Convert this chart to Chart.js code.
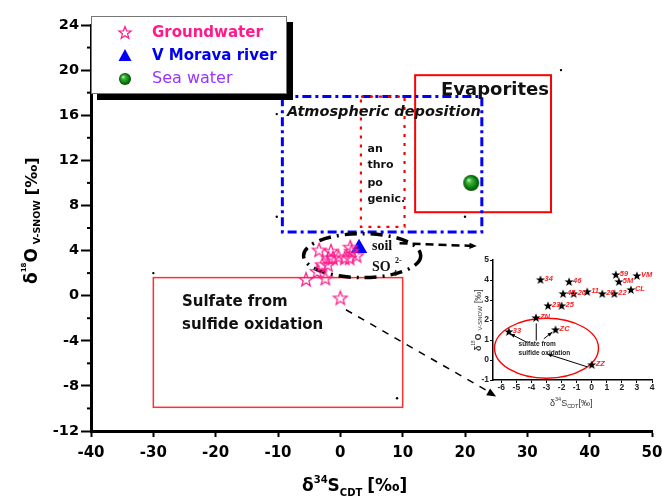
<!DOCTYPE html>
<html>
<head>
<meta charset="utf-8">
<script src="https://cdn.jsdelivr.net/npm/chart.js@4.4.1/dist/chart.umd.min.js"></script>
<style>
html, body { margin: 0; padding: 0; background: #fff; }
#wrap { position: relative; width: 662px; height: 497px; }
#main { position: absolute; left: 0; top: 0; }
#inset { position: absolute; left: 455px; top: 245px; }
</style>
</head>
<body>
<div id="wrap">
  <canvas id="main" width="662" height="497"></canvas>
  <canvas id="inset" width="207" height="180"></canvas>
</div>
<script>
// groundwater samples (d34S, d18O)
const gwLabels = ['34', '46', '45', '20', '11', '28', '22', 'CL', '59', '5M', '23', '25', 'ZN', 'ZC', '33', 'ZZ'];
const gwX = [-3.4, -1.5, -1.9, -1.2, -0.3, 0.7, 1.5, 2.6, 1.6, 1.8, -2.9, -2.0, -3.7, -2.4, -5.5, 0.0];
const gwY = [4.0, 3.9, 3.3, 3.3, 3.4, 3.3, 3.3, 3.5, 4.25, 3.9, 2.7, 2.7, 2.1, 1.5, 1.4, -0.25];

// V Morava river
const riverLabels = ['VM'];
const riverX = [3.0];
const riverY = [4.2];

// sea water
const seaX = [21];
const seaY = [10];

// small black marks left on the plot
const dotX = [-10.2, -10.2, 20.0, 35.4, -30.0, 9.1];
const dotY = [16.1, 7.0, 7.0, 20.0, 2.0, -9.1];

// axis ticks
const xTicks = [-40, -30, -20, -10, 0, 10, 20, 30, 40, 50];
const yTicks = [-12, -8, -4, 0, 4, 8, 12, 16, 20, 24];
const yMinor = [-10, -6, -2, 2, 6, 10, 14, 18, 22];
const insetXTicks = [-6, -5, -4, -3, -2, -1, 0, 1, 2, 3, 4];
const insetYTicks = [-1, 0, 1, 2, 3, 4, 5];

const PINK = '#ff1a8c';
const DV = '"DejaVu Sans"';

function starPath(ctx, R, r) {
    ctx.beginPath();
    for (let i = 0; i < 10; i++) {
        const a = -Math.PI / 2 + i * Math.PI / 5;
        const rad = i % 2 ? r : R;
        ctx.lineTo(Math.cos(a) * rad, Math.sin(a) * rad);
    }
    ctx.closePath();
}

function makeStar(R, r, fill, stroke, lw) {
    const c = document.createElement('canvas');
    const s = Math.ceil(2 * R + lw + 2);
    c.width = c.height = s;
    const g = c.getContext('2d');
    g.translate(s / 2, s / 2);
    starPath(g, R, r);
    if (fill) { g.fillStyle = fill; g.fill(); }
    if (stroke) { g.strokeStyle = stroke; g.lineWidth = lw; g.stroke(); }
    return c;
}

function drawSphere(g, x, y, R) {
    const grad = g.createRadialGradient(x - R * 0.35, y - R * 0.4, 0, x, y, R);
    grad.addColorStop(0, '#d6f7d6');
    grad.addColorStop(0.3, '#40b840');
    grad.addColorStop(0.75, '#0c7a0c');
    grad.addColorStop(1, '#004d00');
    g.fillStyle = grad;
    g.beginPath();
    g.arc(x, y, R, 0, Math.PI * 2);
    g.fill();
}

function makeSphere(R) {
    const c = document.createElement('canvas');
    c.width = c.height = 2 * R + 2;
    drawSphere(c.getContext('2d'), R + 1, R + 1, R);
    return c;
}

const starPink = makeStar(7.2, 3, null, PINK, 1.2);
const starBlack = makeStar(4.8, 2, '#000', null, 0);
const sphereImg = makeSphere(8);

function runs(ctx, x, y, parts) {
    for (const p of parts) {
        ctx.font = p.f;
        ctx.fillText(p.t, x, y + (p.dy || 0));
        x += ctx.measureText(p.t).width + (p.gap || 0);
    }
}

function arrowHead(ctx, x0, y0, x1, y1, size) {
    const a = Math.atan2(y1 - y0, x1 - x0);
    ctx.save();
    ctx.setLineDash([]);
    ctx.beginPath();
    ctx.moveTo(x1, y1);
    ctx.lineTo(x1 - size * Math.cos(a - 0.4), y1 - size * Math.sin(a - 0.4));
    ctx.lineTo(x1 - size * Math.cos(a + 0.4), y1 - size * Math.sin(a + 0.4));
    ctx.closePath();
    ctx.fill();
    ctx.restore();
}

function keepTicks(list) {
    return scale => { scale.ticks = list.map(v => ({ value: v })); };
}

// 주 그래프 장식 (박스, 글자, 화살표, 범례)
const mainDecor = {
    id: 'mainDecor',
    beforeDatasetsDraw(c) {
        const ctx = c.ctx;
        const X = v => c.scales.x.getPixelForValue(v);
        const Y = v => c.scales.y.getPixelForValue(v);
        const box = (x0, x1, y0, y1) => ctx.strokeRect(X(x0), Y(y1), X(x1) - X(x0), Y(y0) - Y(y1));
        ctx.save();

        // sulfide oxidation box
        ctx.strokeStyle = '#ff3030';
        ctx.lineWidth = 1.5;
        box(-30, 10, -9.9, 1.6);

        // evaporites box
        ctx.strokeStyle = '#ff0000';
        ctx.lineWidth = 2;
        box(12, 33.8, 7.4, 19.55);

        // atmospheric deposition
        ctx.strokeStyle = '#0000ff';
        ctx.lineWidth = 3;
        ctx.setLineDash([9, 4, 3, 4]);
        box(-9.3, 22.7, 5.65, 17.65);

        // anthropogenic
        ctx.strokeStyle = '#ff0000';
        ctx.lineWidth = 2.2;
        ctx.setLineDash([3, 6]);
        box(3.3, 10.3, 6.1, 17.65);

        // soil SO4 ellipse
        ctx.strokeStyle = '#000';
        ctx.lineWidth = 3.5;
        ctx.setLineDash([12, 6, 2, 6]);
        const cx = X(3.5), cy = Y(3.55);
        ctx.beginPath();
        ctx.ellipse(cx, cy, X(3.5 + 9.4) - cx, Y(3.55 - 1.95) - cy, 0, 0, Math.PI * 2);
        ctx.stroke();

        // soil -> evaporites arrow
        ctx.lineWidth = 2.5;
        ctx.setLineDash([8, 5]);
        ctx.beginPath();
        ctx.moveTo(X(9.5), Y(4.65));
        ctx.lineTo(X(21.8), Y(4.4));
        ctx.stroke();
        ctx.fillStyle = '#000';
        arrowHead(ctx, X(9.5), Y(4.65), X(21.9), Y(4.4), 8);

        // arrow to the inset
        ctx.lineWidth = 1.5;
        ctx.setLineDash([7, 7]);
        ctx.beginPath();
        ctx.moveTo(X(0.9), Y(-1.25));
        ctx.lineTo(X(24.4), Y(-8.7));
        ctx.stroke();
        arrowHead(ctx, X(0.9), Y(-1.25), X(25.0), Y(-8.95), 10);
        ctx.setLineDash([]);

        // texts
        ctx.fillStyle = '#111';
        ctx.textBaseline = 'middle';
        ctx.textAlign = 'left';
        ctx.font = 'bold 18px ' + DV;
        ctx.fillText('Evaporites', 441, 90);
        ctx.font = 'italic bold 14.5px ' + DV;
        ctx.fillText('Atmospheric deposition', 287, 112);
        ctx.font = 'bold 11px ' + DV;
        ['an', 'thro', 'po', 'genic.'].forEach((t, i) => ctx.fillText(t, 367.5, [149, 165, 183, 199][i]));
        ctx.font = 'bold 15px ' + DV;
        ctx.fillText('Sulfate from', 182, 302);
        ctx.fillText('sulfide oxidation', 182, 325);
        ctx.font = 'bold 14px "Liberation Serif"';
        ctx.fillText('soil', 372, 246);
        ctx.fillText('SO', 372, 267);
        ctx.font = 'bold 8px "Liberation Serif"';
        ctx.fillText('2-', 395, 261);
        ctx.fillText('4', 393, 274);
        ctx.restore();
    },
    afterDraw(c) {
        const ctx = c.ctx;
        const Y = v => c.scales.y.getPixelForValue(v);
        const left = c.chartArea.left;
        ctx.save();

        // minor ticks
        ctx.strokeStyle = '#000';
        ctx.lineWidth = 2;
        yMinor.forEach(v => {
            ctx.beginPath();
            ctx.moveTo(left - 4, Y(v));
            ctx.lineTo(left, Y(v));
            ctx.stroke();
        });

        // axis titles
        ctx.fillStyle = '#000';
        ctx.textBaseline = 'alphabetic';
        runs(ctx, 302, 491, [
            { t: 'δ', f: 'bold 17px ' + DV },
            { t: '34', f: 'bold 10px ' + DV, dy: -8 },
            { t: 'S', f: 'bold 17px ' + DV },
            { t: 'CDT', f: 'bold 10px ' + DV, dy: 5, gap: 5 },
            { t: '[‰]', f: 'bold 17px ' + DV }
        ]);
        ctx.save();
        ctx.translate(37, 284);
        ctx.rotate(-Math.PI / 2);
        runs(ctx, 0, 0, [
            { t: 'δ', f: 'bold 17px ' + DV },
            { t: '18', f: 'bold 7px ' + DV, dy: -11 },
            { t: 'O', f: 'bold 17px ' + DV, gap: 4 },
            { t: 'V-SNOW', f: 'bold 9.5px ' + DV, dy: 3, gap: 5 },
            { t: '[‰]', f: 'bold 16px ' + DV }
        ]);
        ctx.restore();

        // legend
        ctx.fillStyle = '#000';
        ctx.fillRect(97, 22, 196, 78);
        ctx.fillStyle = '#fff';
        ctx.fillRect(91, 16, 196, 78);
        ctx.strokeStyle = '#777';
        ctx.lineWidth = 1;
        ctx.strokeRect(91.5, 16.5, 195, 77);

        ctx.save();
        ctx.translate(125, 33);
        starPath(ctx, 6.5, 2.7);
        ctx.strokeStyle = PINK;
        ctx.lineWidth = 1.2;
        ctx.stroke();
        ctx.restore();

        ctx.fillStyle = '#0000ff';
        ctx.beginPath();
        ctx.moveTo(125, 49);
        ctx.lineTo(131.5, 61);
        ctx.lineTo(118.5, 61);
        ctx.closePath();
        ctx.fill();

        drawSphere(ctx, 125, 79, 6);

        ctx.textBaseline = 'middle';
        ctx.font = 'bold 15px ' + DV;
        ctx.fillStyle = PINK;
        ctx.fillText('Groundwater', 152, 33);
        ctx.fillStyle = '#0000ee';
        ctx.fillText('V Morava river', 152, 56);
        ctx.font = '16px ' + DV;
        ctx.fillStyle = '#9933ff';
        ctx.fillText('Sea water', 152, 79);
        ctx.restore();
    }
};

const toXY = (xs, ys) => xs.map((x, i) => ({ x: x, y: ys[i] }));

new Chart(document.getElementById('main'), {
    type: 'scatter',
    data: {
        datasets: [
            {
                label: 'marks',
                data: toXY(dotX, dotY),
                pointRadius: 1.2,
                pointBackgroundColor: '#000',
                pointBorderWidth: 0
            },
            {
                label: 'Groundwater',
                data: toXY(gwX, gwY),
                pointStyle: starPink,
                pointRadius: 7
            },
            {
                label: 'V Morava river',
                data: toXY(riverX, riverY),
                pointStyle: 'triangle',
                pointRadius: 9.5,
                pointBackgroundColor: '#0000ff',
                pointBorderColor: '#0000ff',
                pointBorderWidth: 0
            },
            {
                label: 'Sea water',
                data: toXY(seaX, seaY),
                pointStyle: sphereImg,
                pointRadius: 8
            }
        ]
    },
    options: {
        responsive: false,
        devicePixelRatio: 1,
        animation: false,
        layout: { padding: { top: 25, right: 10, left: 0, bottom: 0 } },
        plugins: { legend: { display: false }, tooltip: { enabled: false } },
        scales: {
            x: {
                type: 'linear',
                min: -40,
                max: 50,
                afterBuildTicks: keepTicks(xTicks),
                afterFit: s => { s.height = 66; s.paddingLeft = 0; s.paddingRight = 0; },
                grid: { drawOnChartArea: false, tickLength: 6, tickWidth: 2, tickColor: '#000' },
                border: { display: true, color: '#000', width: 3 },
                ticks: { color: '#000', padding: 7, font: { family: 'DejaVu Sans', size: 15, weight: 'bold' } }
            },
            y: {
                type: 'linear',
                min: -12,
                max: 24,
                afterBuildTicks: keepTicks(yTicks),
                afterFit: s => { s.width = 91; s.paddingTop = 0; s.paddingBottom = 0; },
                grid: { drawOnChartArea: false, tickLength: 10, tickWidth: 2, tickColor: '#000' },
                border: { display: true, color: '#000', width: 3 },
                ticks: { color: '#000', padding: 2, font: { family: 'DejaVu Sans', size: 14.5, weight: 'bold' } }
            }
        }
    },
    plugins: [mainDecor]
});

// 삽입 그래프 장식
const insetDecor = {
    id: 'insetDecor',
    beforeDatasetsDraw(c) {
        const ctx = c.ctx;
        const X = v => c.scales.x.getPixelForValue(v);
        const Y = v => c.scales.y.getPixelForValue(v);
        ctx.save();
        ctx.strokeStyle = '#ff0000';
        ctx.lineWidth = 1.4;
        const cx = X(-3.0), cy = Y(0.59);
        ctx.beginPath();
        ctx.ellipse(cx, cy, X(-3.0 + 3.45) - cx, Y(0.59 - 1.5) - cy, 0, 0, Math.PI * 2);
        ctx.stroke();

        ctx.strokeStyle = '#000';
        ctx.fillStyle = '#000';
        ctx.lineWidth = 1;
        const line = (x0, y0, x1, y1, head) => {
            ctx.beginPath();
            ctx.moveTo(X(x0), Y(y0));
            ctx.lineTo(X(x1), Y(y1));
            ctx.stroke();
            if (head) arrowHead(ctx, X(x0), Y(y0), X(x1), Y(y1), 5);
        };
        line(-4.3, 0.88, -5.4, 1.31, true);
        line(-3.68, 0.97, -3.68, 1.83, false);
        line(-3.18, 1.06, -2.62, 1.39, true);
        line(-0.3, -0.34, -2.95, 0.3, true);

        ctx.fillStyle = '#222';
        ctx.textBaseline = 'alphabetic';
        ctx.font = 'bold 6.5px "Liberation Sans"';
        ctx.fillText('sulfate from', X(-4.85), Y(0.72));
        ctx.fillText('sulfide oxidation', X(-4.85), Y(0.24));
        ctx.restore();
    },
    afterDatasetsDraw(c) {
        const ctx = c.ctx;
        const X = v => c.scales.x.getPixelForValue(v);
        const Y = v => c.scales.y.getPixelForValue(v);
        const labels = gwLabels.concat(riverLabels);
        const xs = gwX.concat(riverX);
        const ys = gwY.concat(riverY);
        ctx.save();
        ctx.fillStyle = '#ff2020';
        ctx.font = 'italic bold 7.5px "Liberation Sans"';
        ctx.textBaseline = 'alphabetic';
        labels.forEach((t, i) => ctx.fillText(t, X(xs[i]) + 4, Y(ys[i]) + 1));
        ctx.restore();
    },
    afterDraw(c) {
        const ctx = c.ctx;
        ctx.save();
        ctx.fillStyle = '#333';
        ctx.textBaseline = 'alphabetic';
        runs(ctx, 95, 161, [
            { t: 'δ', f: '9px "Liberation Sans"' },
            { t: '34', f: '5.5px "Liberation Sans"', dy: -5 },
            { t: 'S', f: '9px "Liberation Sans"' },
            { t: 'CDT', f: '5.5px "Liberation Sans"', dy: 2 },
            { t: '[‰]', f: '9px "Liberation Sans"' }
        ]);
        ctx.translate(26, 106);
        ctx.rotate(-Math.PI / 2);
        runs(ctx, 0, 0, [
            { t: 'δ', f: 'bold 9px "Liberation Sans"' },
            { t: '18', f: '4.5px "Liberation Sans"', dy: -6 },
            { t: 'O', f: 'bold 9px "Liberation Sans"', gap: 3 },
            { t: 'V-SNOW', f: '6px "Liberation Sans"', dy: 1, gap: 3 },
            { t: '[‰]', f: '9px "Liberation Sans"' }
        ]);
        ctx.restore();
    }
};

new Chart(document.getElementById('inset'), {
    type: 'scatter',
    data: {
        datasets: [
            {
                label: 'samples',
                data: toXY(gwX.concat(riverX), gwY.concat(riverY)),
                pointStyle: starBlack,
                pointRadius: 5
            }
        ]
    },
    options: {
        responsive: false,
        devicePixelRatio: 1,
        animation: false,
        layout: { padding: { top: 15, right: 10, left: 0, bottom: 0 } },
        plugins: { legend: { display: false }, tooltip: { enabled: false } },
        scales: {
            x: {
                type: 'linear',
                min: -6.55,
                max: 4,
                afterBuildTicks: keepTicks(insetXTicks),
                afterFit: s => { s.height = 45; s.paddingLeft = 0; s.paddingRight = 0; },
                grid: { drawOnChartArea: false, tickLength: 3, tickWidth: 1, tickColor: '#000' },
                border: { display: true, color: '#000', width: 1.5 },
                ticks: { color: '#222', padding: 0, font: { family: 'Liberation Sans', size: 8.5, weight: 'bold' } }
            },
            y: {
                type: 'linear',
                min: -1,
                max: 5,
                afterBuildTicks: keepTicks(insetYTicks),
                afterFit: s => { s.width = 38; s.paddingTop = 0; s.paddingBottom = 0; },
                grid: { drawOnChartArea: false, tickLength: 3, tickWidth: 1, tickColor: '#000' },
                border: { display: true, color: '#000', width: 1.5 },
                ticks: { color: '#222', padding: 1, font: { family: 'Liberation Sans', size: 8.5, weight: 'bold' } }
            }
        }
    },
    plugins: [insetDecor]
});
</script>
</body>
</html>
